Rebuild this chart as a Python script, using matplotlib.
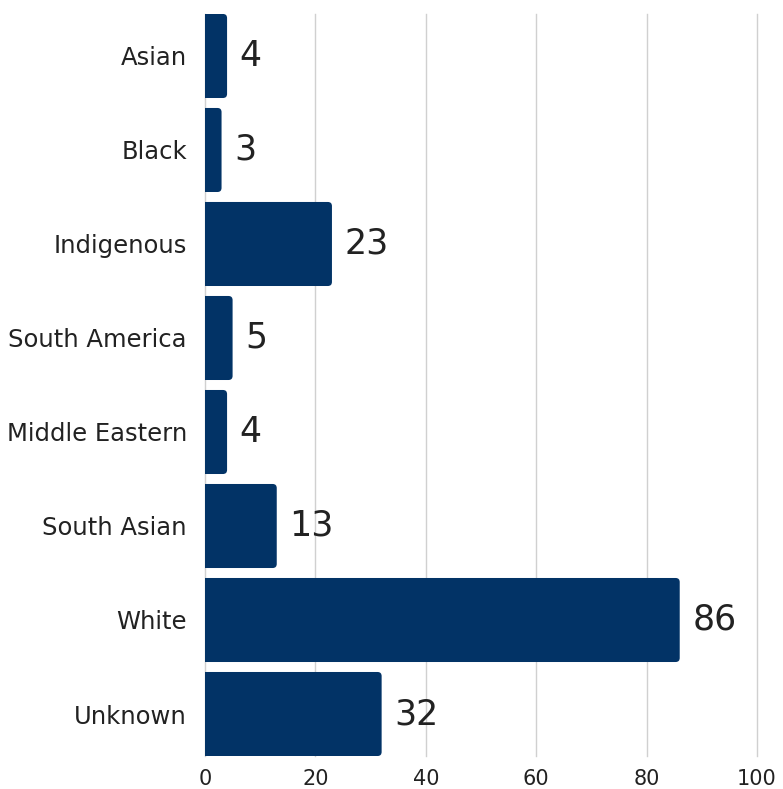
import matplotlib
matplotlib.use('Agg')
import matplotlib.pyplot as plt
from matplotlib.patches import FancyBboxPatch

# ethnicity counts
categories = ['Asian', 'Black', 'Indigenous', 'South America',
              'Middle Eastern', 'South Asian', 'White', 'Unknown']
values = [4, 3, 23, 5, 4, 13, 86, 32]
xticks = [0, 20, 40, 60, 80, 100]

bar_color = '#023366'
text_color = '#222222'

plt.rcParams['font.family'] = ['DejaVu Sans']

fig = plt.figure(figsize=(7.83, 7.89), dpi=100)
ax = fig.add_axes([0.2618, 0.0418, 0.705, 0.9405])

bars = ax.barh(range(len(categories)), values, height=0.894,
               color=bar_color)

# swap the plain rectangles for ones with rounded right corners
for rect in bars:
    rect.set_visible(False)
    x0, y0 = rect.get_x(), rect.get_y()
    w, h = rect.get_width(), rect.get_height()
    patch = FancyBboxPatch((x0 - 2, y0), w + 2, h,
                           boxstyle='round,pad=0,rounding_size=0.75',
                           mutation_aspect=0.058,
                           facecolor=bar_color, edgecolor='none',
                           zorder=2)
    ax.add_patch(patch)

ax.bar_label(bars, labels=[str(v) for v in values], padding=9,
             fontsize=25, color=text_color)

ax.set_xlim(0, 100)
ax.set_ylim(len(categories) - 0.553, -0.447)
ax.set_yticks(range(len(categories)))
ax.set_yticklabels(categories, fontsize=17.5, color=text_color)
ax.set_xticks(xticks)
ax.set_xticklabels([str(t) for t in xticks], fontsize=15,
                   color=text_color)
ax.tick_params(length=0, pad=9)
ax.tick_params(axis='y', pad=13)

ax.grid(axis='x', color='#d0d0d0', linewidth=1)
for gl in ax.get_xgridlines():
    gl.set_clip_on(False)
ax.set_axisbelow(True)
for s in ax.spines.values():
    s.set_visible(False)

fig.savefig('out.png', dpi=100)
